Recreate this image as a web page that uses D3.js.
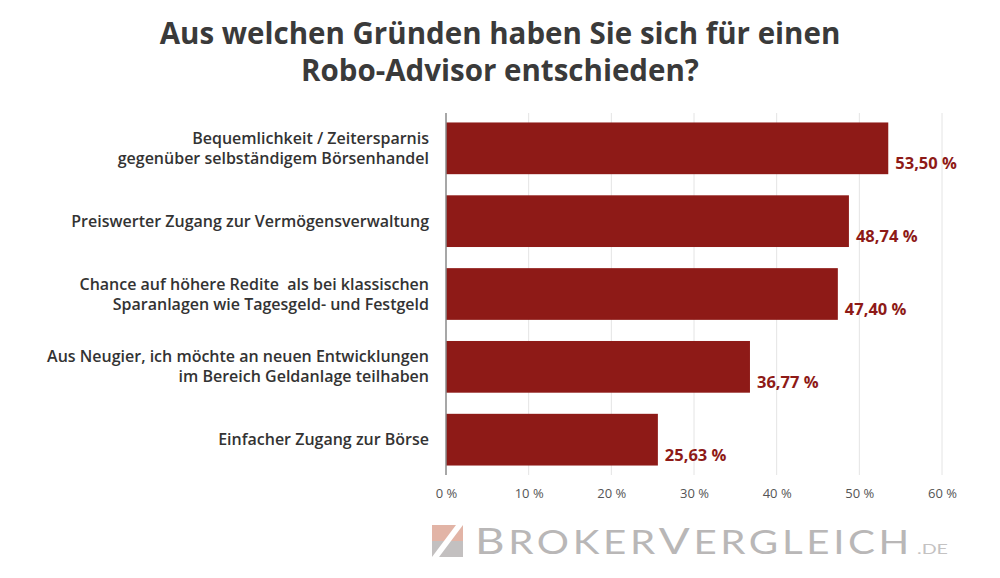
<!DOCTYPE html>
<html>
<head>
<meta charset="utf-8">
<script src="https://cdn.jsdelivr.net/npm/d3@7"></script>
<style>
  html, body { margin: 0; padding: 0; background: #fff; }
  svg { display: block; }
</style>
</head>
<body>
<svg id="chart" width="1000" height="578"></svg>
<script>
// data
var titleLines = ["Aus welchen Gründen haben Sie sich für einen", "Robo-Advisor entschieden?"];
var categories = [
  ["Bequemlichkeit / Zeitersparnis", "gegenüber selbständigem Börsenhandel"],
  ["Preiswerter Zugang zur Vermögensverwaltung"],
  ["Chance auf höhere Redite  als bei klassischen", "Sparanlagen wie Tagesgeld- und Festgeld"],
  ["Aus Neugier, ich möchte an neuen Entwicklungen", "im Bereich Geldanlage teilhaben"],
  ["Einfacher Zugang zur Börse"]
];
var values = [53.50, 48.74, 47.40, 36.77, 25.63];
var ticks = [0, 10, 20, 30, 40, 50, 60];

var de = d3.formatLocale({ decimal: ",", thousands: ".", grouping: [3], currency: ["", " €"] });
var fmt = de.format(".2f");

var svg = d3.select("#chart"),
  width = +svg.attr("width"),
  height = +svg.attr("height");

var font = "'Open Sans', 'Noto Sans', sans-serif";
var barColor = "#8e1a17";

var x = d3.scaleLinear().domain([0, 60]).range([446, 942]);
var y = d3.scaleBand()
  .domain(d3.range(values.length))
  .range([113, 475])
  .paddingInner(0.29)
  .paddingOuter(0.13);

// title
svg.append("g")
  .selectAll("text")
  .data(titleLines)
  .enter()
  .append("text")
  .attr("x", 500)
  .attr("y", function (d, i) { return 44 + i * 37; })
  .attr("text-anchor", "middle")
  .style("font-family", font)
  .style("font-weight", 700)
  .style("font-size", "29.5px")
  .style("fill", "#3a3a3a")
  .text(function (d) { return d; });

// grid
svg.append("g")
  .attr("class", "grid")
  .selectAll("line")
  .data(ticks.filter(function (t) { return t > 0; }))
  .enter()
  .append("line")
  .attr("x1", function (d) { return x(d); })
  .attr("x2", function (d) { return x(d); })
  .attr("y1", 113)
  .attr("y2", 475)
  .style("stroke", "#e4e4e4")
  .style("stroke-width", "1px");

// bars
svg.append("g")
  .attr("class", "bars")
  .selectAll("rect")
  .data(values)
  .enter()
  .append("rect")
  .attr("x", x(0))
  .attr("y", function (d, i) { return y(i); })
  .attr("width", function (d) { return x(d) - x(0); })
  .attr("height", y.bandwidth())
  .style("fill", barColor);

// zero line
svg.append("line")
  .attr("x1", x(0)).attr("x2", x(0))
  .attr("y1", 113).attr("y2", 475)
  .style("stroke", "#8a8a8a")
  .style("stroke-width", "1.5px");

// value labels
svg.append("g")
  .selectAll("text")
  .data(values)
  .enter()
  .append("text")
  .attr("x", function (d) { return x(d) + 7; })
  .attr("y", function (d, i) { return y(i) + y.bandwidth() / 2 + 21; })
  .style("font-family", font)
  .style("font-weight", 700)
  .style("font-size", "16.5px")
  .style("fill", "#8e1a17")
  .text(function (d) { return fmt(d) + " %"; });

// category labels, one text per line
svg.append("g")
  .selectAll("text")
  .data(categories.flatMap(function (d, i) {
    return d.map(function (line, j) { return { line: line, i: i, j: j, n: d.length }; });
  }))
  .enter()
  .append("text")
  .attr("x", 429)
  .attr("y", function (d) {
    return y(d.i) + y.bandwidth() / 2 + 5.5 + (d.j - (d.n - 1) / 2) * 20;
  })
  .attr("text-anchor", "end")
  .style("font-family", font)
  .style("font-weight", 600)
  .style("font-size", "16px")
  .style("white-space", "pre")
  .style("fill", "#333")
  .text(function (d) { return d.line; });

// x axis tick labels
var xAxis = d3.axisBottom(x)
  .tickValues(ticks)
  .tickSize(0)
  .tickFormat(function (d) { return d + " %"; });

var ax = svg.append("g")
  .attr("transform", "translate(0,486)")
  .call(xAxis);
ax.select(".domain").remove();
ax.selectAll("text")
  .style("font-family", font)
  .style("font-size", "13px")
  .style("fill", "#555");

// logo
var logo = svg.append("g").attr("class", "logo");
logo.append("rect").attr("x", 432).attr("y", 525).attr("width", 31).attr("height", 16).style("fill", "#e2b4a6");
logo.append("rect").attr("x", 432).attr("y", 541).attr("width", 31).attr("height", 16).style("fill", "#c3c0c0");
logo.append("polygon")
  .attr("points", "456,525 463,525 439,557 432,557")
  .style("fill", "#fff");

var lt = logo.append("text")
  .attr("x", 475)
  .attr("y", 554)
  .style("font-family", "Lato, 'Open Sans', sans-serif")
  .style("font-weight", 400)
  .style("letter-spacing", "3px")
  .style("fill", "#b9b7b7");
var parts = [["B", 37.5], ["ROKER", 33], ["V", 37.5], ["ERGLEICH", 33]];
parts.forEach(function (p) {
  lt.append("tspan").style("font-size", p[1] + "px").text(p[0]);
});
lt.attr("textLength", 438).attr("lengthAdjust", "spacingAndGlyphs");

logo.append("text")
  .attr("x", 917)
  .attr("y", 554)
  .attr("textLength", 31)
  .attr("lengthAdjust", "spacingAndGlyphs")
  .style("font-family", "Lato, 'Open Sans', sans-serif")
  .style("font-weight", 400)
  .style("font-size", "13px")
  .style("fill", "#c4c2c2")
  .text(".DE");
</script>
</body>
</html>
